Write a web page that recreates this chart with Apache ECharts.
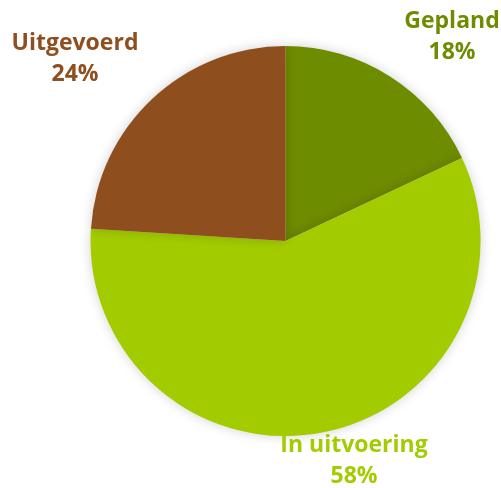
<!DOCTYPE html>
<html>
<head>
<meta charset="utf-8">
<script src="https://cdn.jsdelivr.net/npm/echarts@6/dist/echarts.min.js"></script>
<style>
  html, body { margin: 0; padding: 0; background: #fff; }
  #chart { width: 501px; height: 488px; }
</style>
</head>
<body>
<div id="chart"></div>
<script>
// categories and values (percent)
const categories = ['Gepland', 'In uitvoering', 'Uitgevoerd'];
const values = [18, 58, 24];
const colors = ['#6e8c00', '#a3cc00', '#8f4e1e'];

// where each label block sits (centre of the two lines)
const labelSpots = [[452, 37], [354, 461], [75, 59]];

const chart = echarts.init(document.getElementById('chart'));

const option = {
  animation: false,
  series: [
    {
      type: 'pie',
      center: ['57%', '49.4%'],
      radius: 195,
      startAngle: 90,
      clockwise: true,
      data: categories.map((name, i) => ({
        name: name,
        value: values[i],
        itemStyle: { color: colors[i] },
        label: { color: colors[i] }
      })),
      itemStyle: {
        shadowBlur: 12,
        shadowColor: 'rgba(0,0,0,0.18)'
      },
      label: {
        show: true,
        position: 'outside',
        formatter: '{b}\n{d}%',
        fontFamily: 'Open Sans',
        fontWeight: 'bold',
        fontSize: 23,
        lineHeight: 31,
        align: 'center',
        overflow: 'none'
      },
      labelLine: { show: false },
      labelLayout: function (params) {
        const p = labelSpots[params.dataIndex];
        return { x: p[0], y: p[1], align: 'center', verticalAlign: 'middle', width: 200 };
      },
      emphasis: { disabled: true }
    }
  ]
};

chart.setOption(option);
</script>
</body>
</html>
